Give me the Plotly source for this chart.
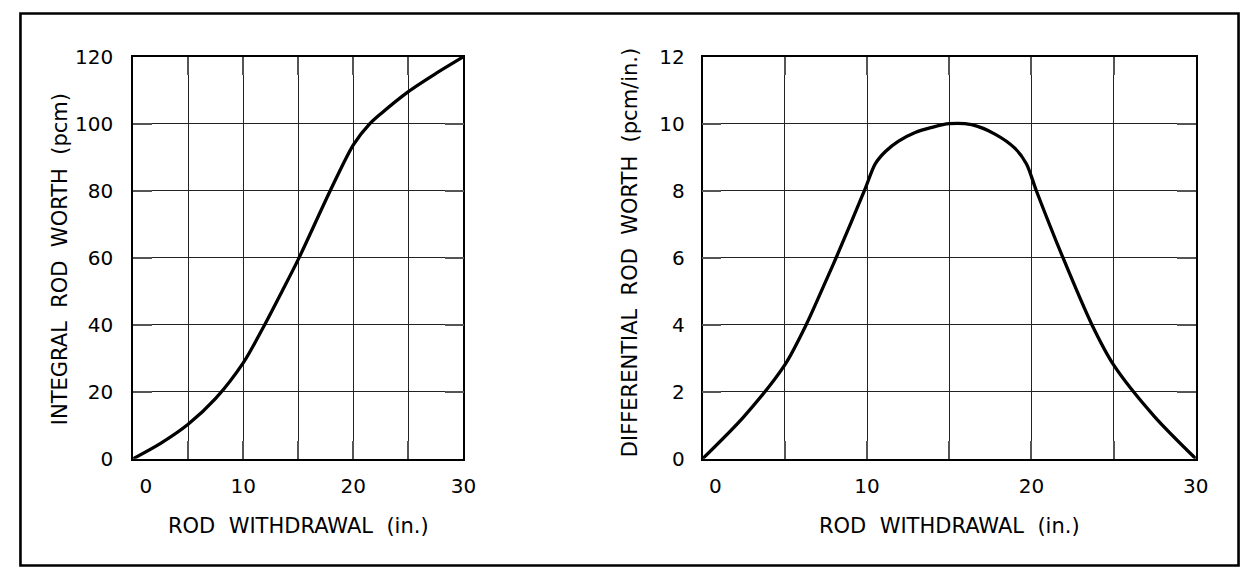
import plotly.graph_objects as go

# Integral rod worth (pcm) vs rod withdrawal (in.)
int_x = [0, 2.5, 5, 7.5, 10, 11.95, 13.5, 15, 17.9, 20, 21.5, 22.5, 25, 27.5, 30]
int_y = [0, 4.6, 10.3, 18.0, 28.6, 40, 49.8, 59.5, 80, 93.7, 100, 103, 109.6, 115, 120]

# Differential rod worth (pcm/in.) vs rod withdrawal (in.)
dif_x = [0, 2.5, 5, 6.3, 7.5, 8.12, 9.84, 10.5, 11.12, 11.92, 12.93, 13.94, 15,
         16.36, 17.78, 18.99, 19.7, 20.3, 21.92, 23.68, 25, 27.5, 30]
dif_y = [0, 1.25, 2.8, 4, 5.31, 6, 8, 8.8, 9.17, 9.48, 9.74, 9.89, 10,
         9.97, 9.69, 9.27, 8.8, 8, 6, 4, 2.8, 1.25, 0]

x_ticks = [0, 10, 20, 30]
x_ticktext = ["\u2007\u20070", "10", "20", "30"]
int_yticks = [0, 20, 40, 60, 80, 100, 120]
dif_yticks = [0, 2, 4, 6, 8, 10, 12]

W, H = 1253, 579
FONT = "DejaVu Sans"

# map target-picture pixel positions to paper fractions
SX, OX, SY, OY = 0.978, 17.6, 0.964, 10.4


def fx(p):
    return (p / SX - OX) / W


def fy(p):
    return 1 - (p / SY - OY) / H


fig = go.Figure()
fig.add_trace(go.Scatter(x=int_x, y=int_y, mode="lines",
                         line=dict(color="black", width=3.3, shape="spline", smoothing=0.8),
                         xaxis="x", yaxis="y", showlegend=False, hoverinfo="skip"))
fig.add_trace(go.Scatter(x=dif_x, y=dif_y, mode="lines",
                         line=dict(color="black", width=3.3, shape="spline", smoothing=0.8),
                         xaxis="x2", yaxis="y2", showlegend=False, hoverinfo="skip"))

ydom = [fy(459.3), fy(55)]


def xax(domain, anchor):
    return dict(domain=domain, anchor=anchor, range=[0, 30], tickvals=x_ticks, ticktext=x_ticktext,
                showgrid=True, gridcolor="#222", gridwidth=1,
                minor=dict(dtick=5, tick0=0, showgrid=True, gridcolor="#222", gridwidth=1,
                           ticks="inside", ticklen=18, tickwidth=2.2, tickcolor="#555"),
                ticks="inside", ticklen=18, tickwidth=2.2, tickcolor="#555",
                showline=True, linecolor="black", linewidth=1.6, mirror="ticks",
                zeroline=False, ticklabelstandoff=8,
                tickfont=dict(family=FONT, size=20, color="black"), fixedrange=True)


def yax(domain, anchor, vals, standoff):
    return dict(domain=domain, anchor=anchor, range=[vals[0], vals[-1]], tickvals=vals,
                showgrid=True, gridcolor="#222", gridwidth=1,
                ticks="inside", ticklen=19, tickwidth=2.2, tickcolor="#555",
                showline=True, linecolor="black", linewidth=1.6, mirror="ticks",
                zeroline=False, ticklabelstandoff=standoff,
                tickfont=dict(family=FONT, size=20, color="black"), fixedrange=True)


fig.update_layout(
    width=W, height=H, margin=dict(l=0, r=0, t=0, b=0),
    paper_bgcolor="white", plot_bgcolor="white",
    xaxis=xax([fx(131.7), fx(463.3)], "y"),
    yaxis=yax(ydom, "x", int_yticks, 14),
    xaxis2=xax([fx(703.3), fx(1198.3)], "y2"),
    yaxis2=yax(ydom, "x2", dif_yticks, 12),
)

sp = "\u00a0\u00a0"
tfont = dict(family=FONT, size=21, color="black")
annots = [
    dict(text=f"ROD{sp}WITHDRAWAL{sp}(in.)", x=fx((131.7 + 463.3) / 2), y=fy(527)),
    dict(text=f"ROD{sp}WITHDRAWAL{sp}(in.)", x=fx((703.3 + 1198.3) / 2), y=fy(527)),
    dict(text=f"INTEGRAL{sp}ROD{sp}WORTH{sp}(pcm)", x=fx(58.5), y=fy(258.5), textangle=-90),
    dict(text=f"DIFFERENTIAL{sp}ROD{sp}WORTH{sp}(pcm/in.)", x=fx(630.5), y=fy(252.5), textangle=-90),
]
for a in annots:
    fig.add_annotation(xref="paper", yref="paper", showarrow=False, font=tfont,
                       xanchor="center", yanchor="middle", **a)

fig.add_shape(type="rect", xref="paper", yref="paper",
              x0=1.5 / W, x1=1251.5 / W, y0=1.5 / H, y1=1 - 1.5 / H,
              line=dict(color="black", width=2.6), fillcolor="rgba(0,0,0,0)", layer="above")

post = ("document.documentElement.style.margin='0';document.documentElement.style.padding='0';"
        "document.documentElement.style.overflow='hidden';"
        "document.body.style.margin='0';document.body.style.padding='0';document.body.style.overflow='hidden';"
        "var gd=document.getElementById('{plot_id}');"
        "gd.style.position='fixed';gd.style.left='0px';gd.style.top='0px';")

fig.write_html("out.html", post_script=post, config={"displayModeBar": False})
